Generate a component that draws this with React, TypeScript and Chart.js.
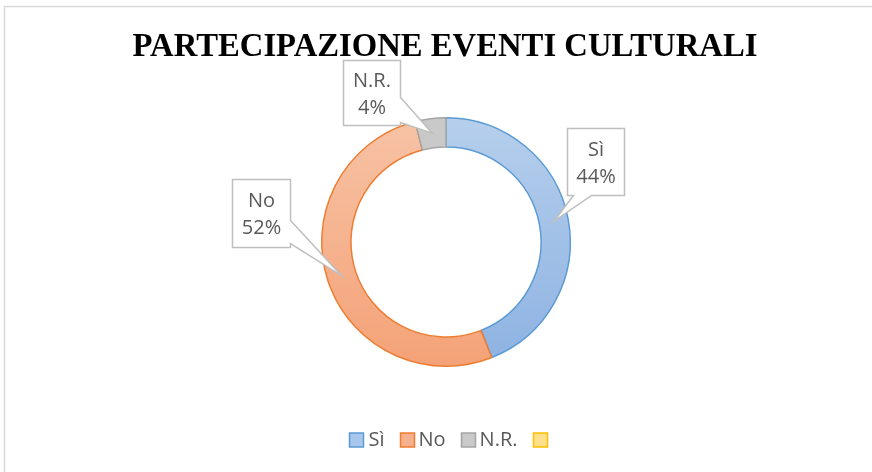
import React, { useEffect, useRef } from "react";
import { Chart, registerables } from "chart.js";

Chart.register(...registerables);

const TITLE = "PARTECIPAZIONE EVENTI CULTURALI";
const categories = ["Sì", "No", "N.R.", ""];
const values = [44, 52, 4, 0];
const fillTop = ["#B6CFEC", "#F7C3A6", "#C9C9C9", "#FFD966"];
const fillBottom = ["#8DB2E2", "#F4A277", "#C9C9C9", "#FFD966"];
const borderColors = ["#5B9BD5", "#ED7D31", "#A5A5A5", "#FFC000"];
const legendFill = ["#A9C7EA", "#F6B08E", "#C9C9C9", "#FFE08A"];

const LABEL_FONT = '20px "Open Sans"';
const TEXT_GRAY = "#595959";

// callout layout relative to the tip point (on the arc)
const callouts = [
  { dx: 13, dy: -93, w: 57, h: 67, side: "bottom", a: 6, b: 24 },
  { dx: -110, dy: -97, w: 58, h: 68, side: "right", a: 41, b: 64 },
  { dx: -89, dy: -73, w: 57, h: 65, side: "right", a: 37, b: 62 },
];

function drawCallout(ctx: CanvasRenderingContext2D, tipX: number, tipY: number, c: any, lines: string[]) {
  const x = Math.round(tipX + c.dx) + 0.5;
  const y = Math.round(tipY + c.dy) + 0.5;
  const { w, h } = c;
  ctx.save();
  ctx.beginPath();
  ctx.moveTo(x, y);
  ctx.lineTo(x + w, y);
  if (c.side === "right") {
    ctx.lineTo(x + w, y + c.a);
    ctx.lineTo(tipX, tipY);
    ctx.lineTo(x + w, y + c.b);
    ctx.lineTo(x + w, y + h);
    ctx.lineTo(x, y + h);
  } else {
    ctx.lineTo(x + w, y + h);
    ctx.lineTo(x + c.b, y + h);
    ctx.lineTo(tipX, tipY);
    ctx.lineTo(x + c.a, y + h);
    ctx.lineTo(x, y + h);
  }
  ctx.closePath();
  ctx.fillStyle = "#FFFFFF";
  ctx.fill();
  ctx.strokeStyle = "#BFBFBF";
  ctx.lineWidth = 1.5;
  ctx.stroke();
  ctx.fillStyle = TEXT_GRAY;
  ctx.font = LABEL_FONT;
  ctx.textAlign = "center";
  ctx.textBaseline = "middle";
  ctx.fillText(lines[0], x + w / 2, y + h / 2 - 12);
  ctx.fillText(lines[1], x + w / 2, y + h / 2 + 15);
  ctx.restore();
}

const decorPlugin = {
  id: "decor",
  beforeDraw(chart: any) {
    const ctx = chart.ctx as CanvasRenderingContext2D;
    ctx.save();
    ctx.fillStyle = "#FFFFFF";
    ctx.fillRect(0, 0, chart.width, chart.height);
    ctx.strokeStyle = "#D9D9D9";
    ctx.lineWidth = 1.5;
    ctx.beginPath();
    ctx.moveTo(4.5, chart.height);
    ctx.lineTo(4.5, 6.5);
    ctx.lineTo(chart.width, 6.5);
    ctx.stroke();
    ctx.restore();
  },
  afterDraw(chart: any) {
    const ctx = chart.ctx as CanvasRenderingContext2D;
    const meta = chart.getDatasetMeta(0);
    const cx = meta.data[0].x;
    // title
    ctx.save();
    ctx.fillStyle = "#000000";
    ctx.font = 'bold 32.7px "Liberation Serif"';
    ctx.textAlign = "center";
    ctx.textBaseline = "alphabetic";
    ctx.fillText(TITLE, cx - 1, 56);
    ctx.restore();

    // callouts
    const total = values.reduce((s, v) => s + v, 0);
    meta.data.forEach((arc: any, i: number) => {
      if (i >= callouts.length || values[i] === 0) return;
      const p = arc.getProps(["x", "y", "startAngle", "endAngle", "innerRadius", "outerRadius"], true);
      const mid = (p.startAngle + p.endAngle) / 2;
      const r = (p.innerRadius + p.outerRadius) / 2;
      const tx = p.x + Math.cos(mid) * r;
      const ty = p.y + Math.sin(mid) * r;
      const pct = Math.round((values[i] / total) * 100) + "%";
      drawCallout(ctx, tx, ty, callouts[i], [categories[i], pct]);
    });

    // legend
    ctx.save();
    ctx.font = LABEL_FONT;
    const box = 14, gapText = 5, gapItem = 15;
    const widths = categories.map((c) => box + (c ? gapText + ctx.measureText(c).width : 0));
    const totalW = widths.reduce((s, v) => s + v, 0) + gapItem * (categories.length - 1);
    let x = cx + 2 - totalW / 2;
    const ly = 440;
    categories.forEach((c, i) => {
      ctx.fillStyle = legendFill[i];
      ctx.strokeStyle = borderColors[i];
      ctx.lineWidth = 1.5;
      const bx = Math.round(x) + 0.5;
      ctx.fillRect(bx, ly - box / 2, box, box);
      ctx.strokeRect(bx, ly - box / 2, box, box);
      if (c) {
        ctx.fillStyle = TEXT_GRAY;
        ctx.textAlign = "left";
        ctx.textBaseline = "middle";
        ctx.fillText(c, x + box + gapText, ly);
      }
      x += widths[i] + gapItem;
    });
    ctx.restore();
  },
};

export default function App() {
  const ref = useRef<HTMLCanvasElement | null>(null);
  useEffect(() => {
    if (!ref.current) return;
    const chart = new Chart(ref.current, {
      type: "doughnut",
      data: {
        labels: categories,
        datasets: [
          {
            data: values,
            backgroundColor: (context: any) => {
              const ch = context.chart;
              const area = ch.chartArea;
              const i = context.dataIndex;
              if (!area) return fillTop[i];
              const g = ch.ctx.createLinearGradient(0, area.top, 0, area.bottom);
              g.addColorStop(0, fillTop[i]);
              g.addColorStop(1, fillBottom[i]);
              return g;
            },
            borderColor: borderColors,
            borderWidth: [1.5, 1.5, 1.5, 0],
          },
        ],
      },
      options: {
        responsive: false,
        maintainAspectRatio: false,
        animation: false,
        cutout: "76.5%",
        layout: { padding: { top: 117, bottom: 105, left: 20, right: 0 } },
        plugins: {
          legend: { display: false },
          tooltip: { enabled: false },
          title: { display: false },
        },
      },
      plugins: [decorPlugin],
    });
    return () => chart.destroy();
  }, []);
  return (
    <div style={{ position: "fixed", left: 0, top: 0, width: 872, height: 472, background: "#fff" }}>
      <canvas ref={ref} width={872} height={472} style={{ display: "block" }} />
    </div>
  );
}
